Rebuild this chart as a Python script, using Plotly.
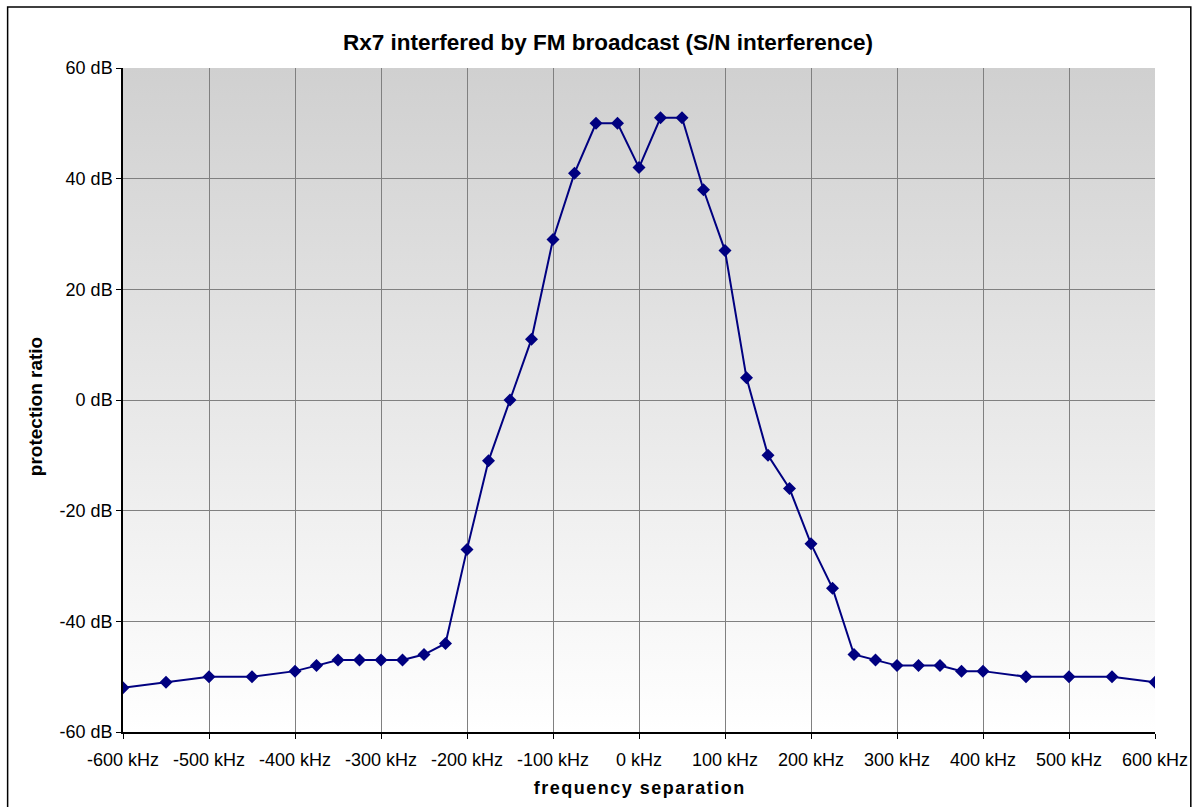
import base64
import plotly.graph_objects as go

freq_khz = [-600, -550, -500, -450, -400, -375, -350, -325, -300, -275, -250, -225,
            -200, -175, -150, -125, -100, -75, -50, -25, 0, 25, 50, 75, 100, 125,
            150, 175, 200, 225, 250, 275, 300, 325, 350, 375, 400, 450, 500, 550, 600]
protection_db = [-52, -51, -50, -50, -49, -48, -47, -47, -47, -47, -46, -44,
                 -27, -11, 0, 11, 29, 41, 50, 50, 42, 51, 51, 38, 27, 4,
                 -10, -16, -26, -34, -46, -47, -48, -48, -48, -49, -49, -50, -50, -50, -51]

x_ticks = list(range(-600, 601, 100))
x_tick_labels = [f"{v} kHz" for v in x_ticks]
y_ticks = list(range(-60, 61, 20))
y_tick_labels = [f"{v} dB" for v in y_ticks]

x_title = "frequency separation"
x_title_spaced = "\u200a".join(x_title)
y_title = "protection ratio"

fig = go.Figure()
fig.add_trace(go.Scatter(
    x=freq_khz, y=protection_db, mode="lines+markers",
    line=dict(color="#000080", width=2),
    marker=dict(symbol="diamond", size=10, color="#000080"),
    showlegend=False,
))

# vertical gradient background (style only) as an SVG image below the grid
svg = ("<svg xmlns='http://www.w3.org/2000/svg' width='10' height='100' preserveAspectRatio='none'>"
       "<defs><linearGradient id='g' x1='0' y1='0' x2='0' y2='1'>"
       "<stop offset='0' stop-color='#d0d0d0'/><stop offset='1' stop-color='#ffffff'/>"
       "</linearGradient></defs><rect width='10' height='100' fill='url(#g)'/></svg>")
svg_uri = "data:image/svg+xml;base64," + base64.b64encode(svg.encode()).decode()

fig.add_layout_image(dict(source=svg_uri, xref="x", yref="y", x=-600, y=60,
                          sizex=1200, sizey=120, sizing="stretch", layer="below",
                          xanchor="left", yanchor="top"))

# outer chart frame
fig.add_shape(type="rect", xref="paper", yref="paper", x0=-0.1118, x1=1.0347,
              y0=-0.2, y1=1.0917, line=dict(color="black", width=1.5),
              fillcolor="rgba(0,0,0,0)", layer="above")

# y-axis title
fig.add_annotation(text=f"<b>{y_title}</b>", xref="paper", yref="paper",
                   x=-0.0848, y=0.49, textangle=-90, showarrow=False,
                   xanchor="center", yanchor="middle", font=dict(size=19))

fig.update_layout(
    width=1200, height=807,
    margin=dict(l=123, r=39, t=68, b=74),
    paper_bgcolor="white", plot_bgcolor="white",
    font=dict(family="Liberation Sans, Arial, sans-serif", size=18, color="black"),
    title=dict(text="<b>Rx7 interfered by FM broadcast (S/N interference)</b>",
               x=0.47, xref="paper", xanchor="center", y=0.948, yref="container",
               yanchor="middle", font=dict(size=22.5)),
    xaxis=dict(range=[-600, 600], tickvals=x_ticks, ticktext=x_tick_labels,
               showgrid=True, gridcolor="#808080", gridwidth=1,
               showline=True, linecolor="black", linewidth=1.5,
               ticks="outside", ticklen=5, tickcolor="black", zeroline=False,
               tickfont=dict(size=18), ticklabelstandoff=6,
               title=dict(text=f"<b>{x_title_spaced}</b>",
                          font=dict(size=18), standoff=12)),
    yaxis=dict(range=[-60, 60], tickvals=y_ticks, ticktext=y_tick_labels,
               showgrid=True, gridcolor="#808080", gridwidth=1,
               showline=True, linecolor="black", linewidth=1.5,
               ticks="outside", ticklen=5, tickcolor="black", zeroline=False,
               tickfont=dict(size=18)),
)

fig.write_html("out.html", config={"displayModeBar": False},
               post_script="document.body.style.margin='0';document.body.style.overflow='hidden';")
